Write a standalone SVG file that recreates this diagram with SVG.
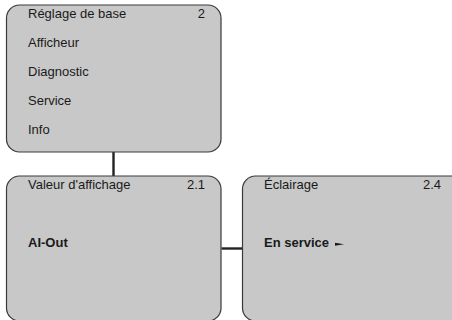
<svg xmlns="http://www.w3.org/2000/svg" width="452" height="320" viewBox="0 0 452 320">
<style>
.box{fill:#c8c8c8;stroke:#3a3a3a;stroke-width:1.2}
.t{font-family:"Liberation Sans",Arial,sans-serif;font-size:13px;fill:#1a1a1a}
.b{font-weight:bold}
.r{text-anchor:end}
.c{stroke:#222;stroke-width:2.4;fill:none}
</style>
<rect width="452" height="320" fill="#ffffff"/>
<g id="connectors">
<line class="c" x1="113.5" y1="152" x2="113.5" y2="176"/>
<line class="c" x1="221.5" y1="248.5" x2="242.5" y2="248.5"/>
</g>
<g id="node-main">
<rect class="box" x="6.5" y="5" width="214.5" height="147" rx="13" ry="13"/>
<text class="t" x="28" y="18">Réglage de base</text>
<text class="t r" x="205" y="18">2</text>
<text class="t" x="28" y="47">Afficheur</text>
<text class="t" x="28" y="76">Diagnostic</text>
<text class="t" x="28" y="105">Service</text>
<text class="t" x="28" y="134">Info</text>
</g>
<g id="node-valeur">
<rect class="box" x="6.5" y="176" width="214.5" height="145" rx="13" ry="13"/>
<text class="t" x="28" y="189">Valeur d'affichage</text>
<text class="t r" x="205" y="189">2.1</text>
<text class="t b" x="28" y="247">AI-Out</text>
</g>
<g id="node-eclairage">
<rect class="box" x="242.5" y="176" width="222" height="145" rx="13" ry="13"/>
<text class="t" x="264" y="189">Éclairage</text>
<text class="t r" x="441" y="189">2.4</text>
<text class="t b" x="264" y="247">En service</text>
<polygon points="335,242.8 344,244.3 335,245.8" fill="#1a1a1a"/>
</g>
</svg>
